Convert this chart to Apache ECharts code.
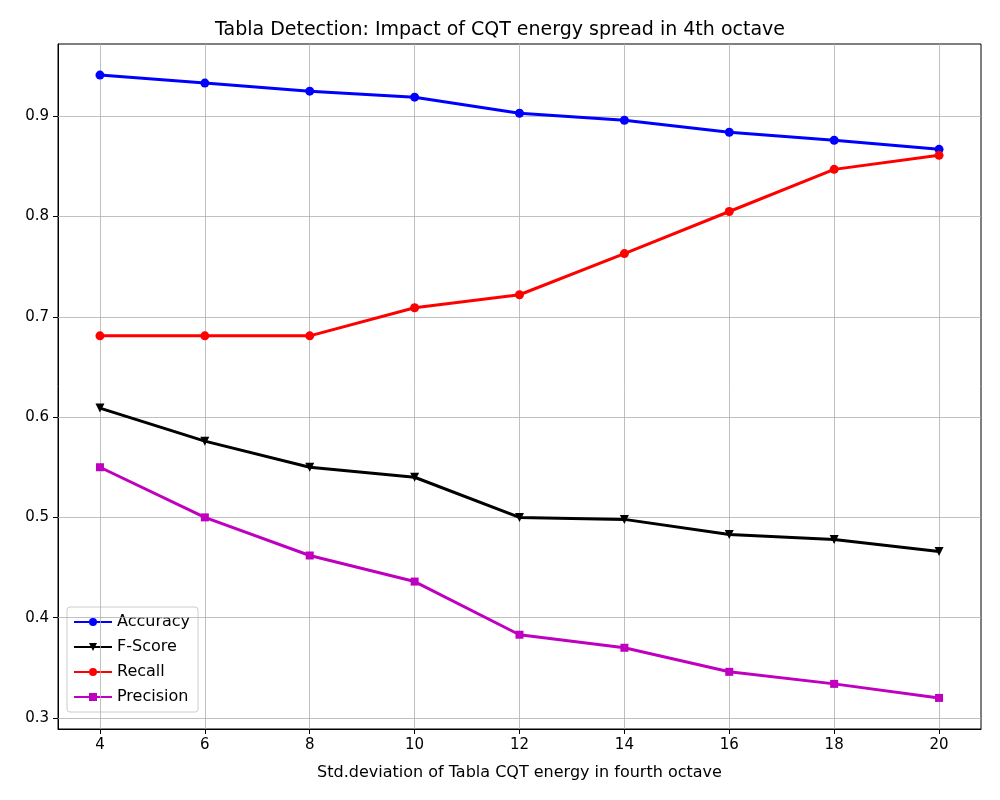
<!DOCTYPE html>
<html><head><meta charset="utf-8">
<script src="https://cdn.jsdelivr.net/npm/echarts@6/dist/echarts.min.js"></script>
<style>body{margin:0}#c{width:1000px;height:800px}</style></head>
<body><div id="c"></div>
<script>
const xValues=[4,6,8,10,12,14,16,18,20];
const accuracy=[0.941,0.933,0.925,0.919,0.903,0.896,0.884,0.876,0.867];
const fscore=[0.609,0.576,0.550,0.540,0.500,0.498,0.483,0.478,0.466];
const recall=[0.681,0.681,0.681,0.709,0.722,0.763,0.805,0.847,0.861];
const precision=[0.550,0.500,0.462,0.436,0.383,0.370,0.346,0.334,0.320];
const yTicks=[0.3,0.4,0.5,0.6,0.7,0.8,0.9];
const font='DejaVu Sans';
const pair=a=>xValues.map((x,i)=>[x,a[i]]);
const gridLines={silent:true,symbol:'none',label:{show:false},lineStyle:{color:'#b0b0b0',width:0.8,type:'solid'},
 data:[...xValues.map(v=>({xAxis:v})),...yTicks.map(v=>({yAxis:v}))]};
function s(name,data,color,symbol,rot){return {name,type:'line',data:pair(data),symbol,symbolSize:symbol==='rect'?8:9,symbolRotate:rot||0,
 lineStyle:{color,width:3},itemStyle:{color},z:5};}
const series=[s('Accuracy',accuracy,'#0000ff','circle'),s('F-Score',fscore,'#000000','triangle',180),
 s('Recall',recall,'#ff0000','circle'),s('Precision',precision,'#bf00bf','rect')];
series[0].markLine=gridLines;
const c=echarts.init(document.getElementById('c'));
c.setOption({animation:false,
 title:{text:'Tabla Detection: Impact of CQT energy spread in 4th octave',left:'center',top:16,textStyle:{fontFamily:font,fontSize:19,fontWeight:'normal',color:'#000'}},
 grid:{left:58,right:19,top:44,bottom:71},
 legend:{orient:'vertical',left:67,top:607,itemWidth:38,itemHeight:10,itemGap:9,padding:[7,8,7,6],
  borderColor:'#ccc',borderWidth:1,borderRadius:3,backgroundColor:'rgba(255,255,255,0.8)',
  textStyle:{fontFamily:font,fontSize:16,color:'#000'},data:['Accuracy','F-Score','Recall','Precision']},
 xAxis:{type:'value',min:3.2,max:20.8,name:'Std.deviation of Tabla CQT energy in fourth octave',nameLocation:'middle',nameGap:36,
  nameTextStyle:{fontFamily:font,fontSize:16,color:'#000'},
  axisLine:{show:true,onZero:false,lineStyle:{color:'#000'}},splitLine:{show:false},
  axisTick:{show:true,customValues:xValues,length:5,lineStyle:{color:'#000'}},
  axisLabel:{customValues:xValues,fontFamily:font,fontSize:15,color:'#000',margin:9}},
 yAxis:{type:'value',min:0.289,max:0.972,
  axisLine:{show:true,onZero:false,lineStyle:{color:'#000'}},splitLine:{show:false},
  axisTick:{show:true,customValues:yTicks,length:5,lineStyle:{color:'#000'}},
  axisLabel:{customValues:yTicks,fontFamily:font,fontSize:15,color:'#000',margin:9,formatter:v=>v.toFixed(1)}},
 series});
c.setOption({graphic:[{type:'rect',shape:{x:58,y:44,width:923,height:685},style:{fill:null,stroke:'#000',lineWidth:1},silent:true}]});
</script></body></html>
